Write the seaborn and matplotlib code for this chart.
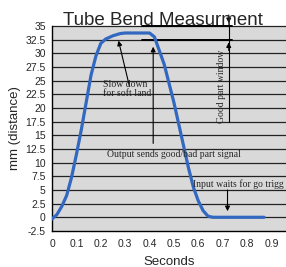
import matplotlib
matplotlib.use("Agg")
import matplotlib.pyplot as plt
import seaborn as sns
import pandas as pd

seconds = [0.0, 0.02, 0.04, 0.06, 0.08, 0.10, 0.12, 0.14, 0.16, 0.18, 0.20, 0.22,
           0.25, 0.28, 0.30, 0.35, 0.40, 0.42, 0.44, 0.46, 0.48, 0.50, 0.52, 0.54,
           0.56, 0.58, 0.60, 0.62, 0.64, 0.66, 0.70, 0.80, 0.87]
distance = [-0.3, 0.5, 2.0, 4.0, 7.3, 11.5, 16.0, 21.0, 26.0, 29.5, 31.8, 32.6,
            33.2, 33.6, 33.7, 33.7, 33.7, 33.0, 30.5, 28.0, 24.5, 21.0, 17.0, 13.0,
            9.0, 5.5, 3.0, 1.2, 0.2, 0.0, 0.0, 0.0, 0.0]
y_ticks = [-2.5, 0, 2.5, 5, 7.5, 10, 12.5, 15, 17.5, 20, 22.5, 25, 27.5, 30, 32.5, 35]
x_ticks = [0, 0.1, 0.2, 0.3, 0.4, 0.5, 0.6, 0.7, 0.8, 0.9]

df = pd.DataFrame({"Seconds": seconds, "mm": distance})

sns.set_style("white", {"axes.facecolor": "#d9d9d9"})
plt.rcParams['font.family'] = ['Liberation Sans', 'DejaVu Sans']

fig = plt.figure(figsize=(2.86, 2.67), dpi=100)
ax = fig.add_axes([0.182, 0.135, 0.818, 0.768])

for v in y_ticks[1:]:
    ax.axhline(v, color="#222222", lw=0.9, zorder=1, clip_on=False)

sns.lineplot(data=df, x="Seconds", y="mm", color="#3268c0", lw=2.3, ax=ax, zorder=3)

ax.set_xlim(0, 0.96)
ax.set_ylim(-2.5, 35)
ax.set_yticks(y_ticks)
ax.set_yticklabels(["-2.5", "0", "2.5", "5", "7.5", "10", "12.5", "15", "17.5",
                    "20", "22.5", "25", "27.5", "30", "32.5", "35"])
ax.set_xticks(x_ticks)
ax.set_xticklabels(["0", "0.1", "0.2", "0.3", "0.4", "0.5", "0.6", "0.7", "0.8", "0.9"])
ax.tick_params(axis="both", direction="out", length=3, width=0.8, labelsize=7.5,
               pad=1.5, color="black")
ax.tick_params(axis="x", pad=3)
for s in ["top", "right"]:
    ax.spines[s].set_visible(False)
for s in ["left", "bottom"]:
    ax.spines[s].set_color("black")
    ax.spines[s].set_linewidth(1.0)

ax.set_title("Tube Bend Measurment", fontsize=13.5, pad=0.5, x=0.475)
ax.set_xlabel("Seconds", fontsize=9.5, labelpad=5)
ax.set_ylabel("mm (distance)", fontsize=9.5, labelpad=3)

# good part window
ax.plot([0.37, 0.74], [35, 35], color="black", lw=1.4, zorder=2, clip_on=False)
ax.plot([0.37, 0.74], [32.5, 32.5], color="black", lw=1.4, zorder=2)
ax.plot([0.725, 0.725], [17.5, 35], color="black", lw=0.8, zorder=4)
ax.annotate("", xy=(0.725, 32.5), xytext=(0.725, 30),
            arrowprops=dict(arrowstyle="-|>", color="black", lw=0.8, mutation_scale=7))
ax.annotate("", xy=(0.725, 35), xytext=(0.725, 37.5), annotation_clip=False,
            arrowprops=dict(arrowstyle="-|>", color="black", lw=0.8, mutation_scale=7))

serif = ['Liberation Serif', 'DejaVu Serif']
ax.text(0.697, 24.0, "Good part window", rotation=90, ha="center", va="center",
        fontsize=7, family=serif, zorder=5)

ax.annotate("", xy=(0.27, 32.8), xytext=(0.32, 23.5),
            arrowprops=dict(arrowstyle="-|>", color="black", lw=0.8, mutation_scale=7))
ax.text(0.21, 23.5, "Slow down\nfor soft land", ha="left", va="center",
        fontsize=7, family=serif, linespacing=1.0, zorder=5)

ax.annotate("", xy=(0.415, 31.7), xytext=(0.415, 13),
            arrowprops=dict(arrowstyle="-|>", color="black", lw=0.8, mutation_scale=7))
ax.text(0.5, 11.4, "Output sends good/bad part signal", ha="center", va="center",
        fontsize=7, family=serif, zorder=5)

ax.annotate("", xy=(0.72, 0.6), xytext=(0.72, 5.5),
            arrowprops=dict(arrowstyle="-|>", color="black", lw=0.8, mutation_scale=7))
ax.text(0.58, 6.0, "Input waits for go trigg", ha="left", va="center",
        fontsize=7, family=serif, zorder=5)

fig.savefig("out.png", dpi=100)
